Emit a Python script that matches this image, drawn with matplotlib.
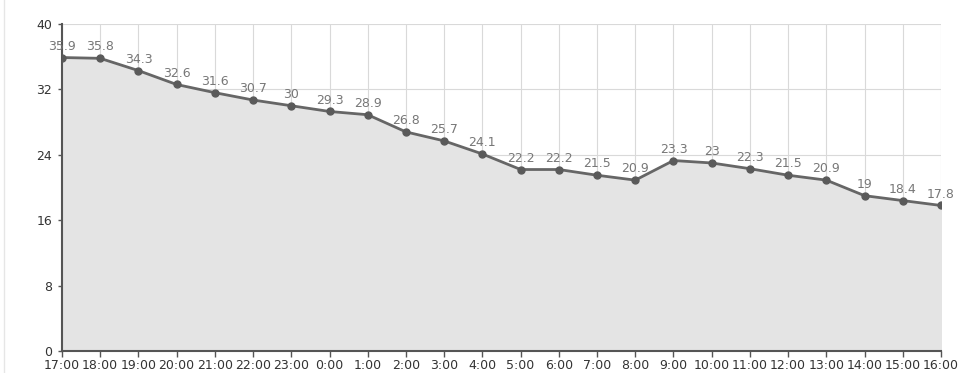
import matplotlib
matplotlib.use('Agg')
import matplotlib.pyplot as plt
from matplotlib.lines import Line2D

hours = ['17:00', '18:00', '19:00', '20:00', '21:00', '22:00', '23:00', '0:00',
         '1:00', '2:00', '3:00', '4:00', '5:00', '6:00', '7:00', '8:00', '9:00',
         '10:00', '11:00', '12:00', '13:00', '14:00', '15:00', '16:00']
temps = [35.9, 35.8, 34.3, 32.6, 31.6, 30.7, 30, 29.3, 28.9, 26.8, 25.7, 24.1,
         22.2, 22.2, 21.5, 20.9, 23.3, 23, 22.3, 21.5, 20.9, 19, 18.4, 17.8]
yticks = [0, 8, 16, 24, 32, 40]

fig = plt.figure(figsize=(9.6, 3.73), dpi=100)
ax = fig.add_axes([62 / 960, 22 / 373, 879 / 960, 327 / 373])

# faint line down the left edge of the picture
fig.lines.append(Line2D([4 / 960, 4 / 960], [0, 1], transform=fig.transFigure,
                        color='#e6e6e6', lw=1))

x = list(range(len(hours)))
ax.fill_between(x, temps, 0, color='#e4e4e4', zorder=1)
ax.plot(x, temps, color='#666666', lw=2, marker='o', ms=5,
        mfc='#5a5a5a', mec='#5a5a5a', zorder=3)
for xi, t in zip(x, temps):
    ax.annotate('%g' % t, (xi, t), xytext=(0, 3.5), textcoords='offset points',
                ha='center', va='bottom', fontsize=9, color='#777777', zorder=4)

ax.set_xlim(0, len(hours) - 1)
ax.set_ylim(0, 40)
ax.set_xticks(x)
ax.set_xticklabels(hours)
ax.set_yticks(yticks)
ax.grid(color='#d9d9d9', lw=0.8, zorder=0)
ax.set_axisbelow(True)
for s in ['top', 'right']:
    ax.spines[s].set_visible(False)
for s in ['left', 'bottom']:
    ax.spines[s].set_color('#555555')
    ax.spines[s].set_linewidth(1.5)
ax.tick_params(axis='x', colors='#555555', length=4, width=1, labelsize=9,
               labelcolor='#333333', pad=1.5)
ax.tick_params(axis='y', colors='#555555', length=3, width=1, labelsize=9,
               labelcolor='#333333', pad=4)

fig.savefig('out.png', dpi=100)
